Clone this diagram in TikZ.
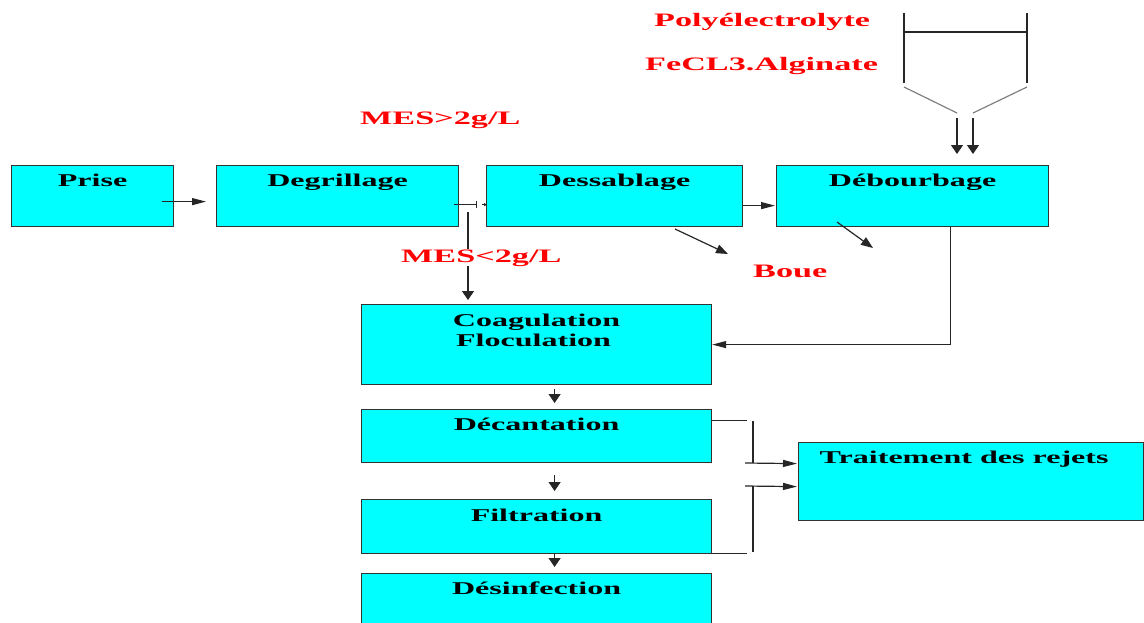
\documentclass[tikz,border=0pt]{standalone}
\usepackage{fontspec}
\usepackage{graphicx}
\setmainfont{Liberation Serif}
\usetikzlibrary{arrows.meta}
\definecolor{boxcyan}{RGB}{0,255,255}
\definecolor{redtxt}{RGB}{255,0,0}
\newcommand\bsx[1]{\scalebox{1.78}[1]{#1}}
\newcommand\rsx[1]{\scalebox{1.8}[1]{#1}}
\tikzset{
  box/.style={draw=black!80, fill=boxcyan, line width=1.2pt, anchor=north west, inner sep=0pt},
  blk/.style={font=\fontsize{18}{20}\selectfont\bfseries, anchor=base, inner sep=0pt},
  redlbl/.style={font=\fontsize{19}{21}\selectfont\bfseries, text=redtxt, anchor=base west, inner sep=0pt},
  ln/.style={line width=1.2pt, draw=black!85},
  harr/.style={ln, -{Triangle[length=14pt,width=7pt]}},
  varr/.style={ln, -{Triangle[length=9pt,width=12pt]}},
  darr/.style={ln, -{Triangle[length=12pt,width=9pt]}},
  tinyarr/.style={ln, -{Triangle[length=3pt,width=3pt]}},
  barend/.style={ln, -{Bar[width=7pt]}},
  hop/.style={line width=1.2pt, draw=black!85},
  funnel/.style={line width=1.2pt, draw=black!50}
}
\begin{document}
\begin{tikzpicture}[x=1pt,y=-1pt]
\useasboundingbox (0,0) rectangle (1144,622);
\clip (0,0) rectangle (1144,622);

% boxes
\node[box, minimum width=162pt, minimum height=61pt] (prise) at (11,165) {};
\node[box, minimum width=242pt, minimum height=61pt] (deg) at (216,165) {};
\node[box, minimum width=256pt, minimum height=61pt] (dess) at (486,165) {};
\node[box, minimum width=272pt, minimum height=61pt] (deb) at (776,165) {};
\node[box, minimum width=350pt, minimum height=80pt] (coag) at (361,304) {};
\node[box, minimum width=350pt, minimum height=53pt] (dec) at (361,409) {};
\node[box, minimum width=350pt, minimum height=54pt] (filt) at (361,499) {};
\node[box, minimum width=350pt, minimum height=70pt] (des) at (361,573) {};
\node[box, minimum width=345pt, minimum height=78pt] (trt) at (798,442) {};

% box labels
\node[blk] (tprise) at ([yshift=-21pt]prise.north) {\bsx{Prise}};
\node[blk] (tdeg) at ([yshift=-21pt]deg.north) {\bsx{Degrillage}};
\node[blk] (tdess) at ([yshift=-21pt]dess.north) {\bsx{Dessablage}};
\node[blk] (tdeb) at ([yshift=-21pt]deb.north) {\bsx{Débourbage}};
\node[blk] (tcoag) at ([yshift=-22pt]coag.north) {\bsx{Coagulation}};
\node[blk] (tfloc) at ([xshift=-3pt,yshift=-42pt]coag.north) {\bsx{Floculation}};
\node[blk] (tdec) at ([yshift=-21pt]dec.north) {\bsx{Décantation}};
\node[blk] (tfilt) at ([yshift=-22pt]filt.north) {\bsx{Filtration}};
\node[blk] (tdes) at ([yshift=-21pt]des.north) {\bsx{Désinfection}};
\node[blk] (ttrt) at ([xshift=-7pt,yshift=-21pt]trt.north) {\bsx{Traitement des rejets}};

% red labels
\node[redlbl] (poly) at (654,26) {\rsx{Polyélectrolyte}};
\node[redlbl] (fecl) at (645,70) {\rsx{FeCL3.Alginate}};
\node[redlbl] (mesg) at (360,124) {\rsx{MES>2g/L}};
\node[redlbl] (boue) at (753,277) {\rsx{Boue}};

% hopper
\draw[hop] (904,13) -- (904,83);
\draw[hop] (1027,13) -- (1027,83);
\draw[hop] (904,32) -- (1027,32);
\draw[funnel] (904,87) -- (957,113);
\draw[funnel] (1027,87) -- (973,113);
\coordinate (h1) at (957,118);
\coordinate (h2) at (973,118);
\draw[varr] (h1) -- (h1 |- 0,154);
\draw[varr] (h2) -- (h2 |- 0,154);

% main line connectors
\draw[harr] ([xshift=-12pt,yshift=-5.5pt]prise.east) -- ([xshift=-10pt,yshift=-5.5pt]deg.west);
\draw[barend] ([xshift=-5pt,yshift=-8.5pt]deg.east) -- ([xshift=18pt,yshift=-8.5pt]deg.east);
\draw[tinyarr] ([xshift=-4pt,yshift=-8.5pt]dess.west) -- ([xshift=1pt,yshift=-8.5pt]dess.west);
\coordinate (split) at (468,212);
\draw[varr] (split) -- ([yshift=4pt]split |- coag.north);
\node[redlbl, fill=white] (mesl) at (401,262) {\rsx{MES<2g/L}};
\draw[harr] ([yshift=-9.5pt]dess.east) -- ([xshift=-1pt,yshift=-9.5pt]deb.west);

% sludge arrows
\coordinate (b1) at (675,229);
\coordinate (b2) at (837,222);
\draw[darr] (b1) -- (728,254);
\draw[darr] (b2) -- (873,248);

% Débourbage -> Coagulation
\draw[harr] ([xshift=38pt]deb.south) |- (coag.east);

% vertical chain
\draw[varr] ([xshift=18pt,yshift=-4pt]coag.south) -- ([xshift=18pt,yshift=6pt]dec.north);
\draw[varr] ([xshift=18pt,yshift=-12pt]dec.south) -- ([xshift=18pt,yshift=8pt]filt.north);
\draw[varr] ([xshift=18pt,yshift=1pt]filt.south) -- ([xshift=18pt,yshift=6pt]des.north);

% to Traitement des rejets
\draw[ln] ([yshift=15.5pt]dec.east) -- ++(35,0);
\draw[ln] (753,421) -- (753,463);
\draw[harr] (745,463) -- ([xshift=-1pt,yshift=18pt]trt.west);
\draw[ln] ([yshift=1pt]filt.south east) -- ++(35,0);
\draw[ln] (753,486) -- (753,552);
\draw[harr] (745,486) -- ([xshift=-1pt,yshift=-5pt]trt.west);
\end{tikzpicture}
\end{document}
